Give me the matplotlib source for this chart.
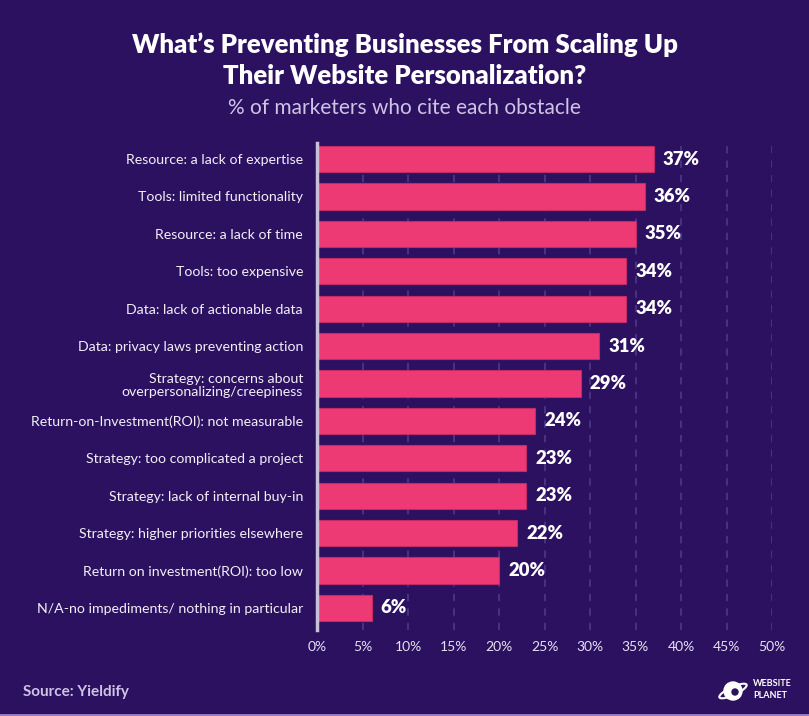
import matplotlib.pyplot as plt
from matplotlib.patches import Circle, Ellipse

# data
obstacles = [
    "Resource: a lack of expertise",
    "Tools: limited functionality",
    "Resource: a lack of time",
    "Tools: too expensive",
    "Data: lack of actionable data",
    "Data: privacy laws preventing action",
    "Strategy: concerns about\noverpersonalizing/creepiness",
    "Return-on-Investment(ROI): not measurable",
    "Strategy: too complicated a project",
    "Strategy: lack of internal buy-in",
    "Strategy: higher priorities elsewhere",
    "Return on investment(ROI): too low",
    "N/A-no impediments/ nothing in particular",
]
percent = [37, 36, 35, 34, 34, 31, 29, 24, 23, 23, 22, 20, 6]
xticks = [0, 5, 10, 15, 20, 25, 30, 35, 40, 45, 50]

BG = "#2c1160"
PINK = "#ee3a74"
LAV = "#cfc3e6"

plt.rcParams['font.family'] = ['Lato', 'DejaVu Sans']

fig = plt.figure(figsize=(8.09, 7.16), dpi=100, facecolor=BG)
ax = fig.add_axes([317 / 809, 1 - 630 / 716, (772 - 317) / 809, 487 / 716])
ax.set_facecolor(BG)

ypos = list(range(len(percent)))
ax.barh(ypos, percent, height=0.7, color=PINK, edgecolor="#c22a66", linewidth=0.8, zorder=3)
for y, v in zip(ypos, percent):
    ax.text(v + 1.0, y, f"{v}%", va="center", ha="left", color="white",
            fontsize=13.3, fontweight="heavy")

ax.set_xlim(0, 50)
ax.set_ylim(12.59, -0.43)
ax.set_xticks(xticks)
ax.set_xticklabels([f"{t}%" for t in xticks], color="#e6e0f2", fontsize=10)
ax.set_yticks(ypos)
ax.set_yticklabels(obstacles, color="#f2eef8", fontsize=10.2, linespacing=1.15)
ax.tick_params(axis="both", length=0)
ax.tick_params(axis="y", pad=10)
ax.tick_params(axis="x", pad=8)
for t in xticks[1:]:
    ax.axvline(t, color="#4d3585", linestyle=(0, (4, 4)), linewidth=1.3, zorder=1)
for s in ["top", "right", "bottom"]:
    ax.spines[s].set_visible(False)
ax.spines["left"].set_color("#c8c0d8")
ax.spines["left"].set_linewidth(2.5)
ax.spines["left"].set_zorder(4)

# titles
fig.text(0.5, 1 - 60 / 716, "What\u2019s Preventing Businesses From Scaling Up\nTheir Website Personalization?",
         ha="center", va="center", color="white", fontsize=18.5, fontweight="heavy", linespacing=1.35)
fig.text(0.5, 1 - 108 / 716, "% of marketers who cite each obstacle",
         ha="center", va="center", color=LAV, fontsize=15)

fig.text(23 / 809, 1 - 692 / 716, "Source: Yieldify", ha="left", va="center",
         color=LAV, fontsize=11, fontweight="bold")

# logo
lax = fig.add_axes([718 / 809, 1 - 704 / 716, 30 / 809, 26 / 716])
lax.set_xlim(0, 30)
lax.set_ylim(0, 26)
lax.axis("off")
lax.add_patch(Circle((15, 13), 9, color="white"))
lax.add_patch(Ellipse((15, 13), 30, 8, angle=25, fill=False, edgecolor="white", linewidth=1.5))
lax.add_patch(Circle((17, 12), 3, color=BG))
fig.text(753 / 809, 1 - 684 / 716, "WEBSITE", color="white", fontsize=6.5,
         fontweight="bold", ha="left", va="center")
fig.text(753 / 809, 1 - 696 / 716, "PLANET", color="white", fontsize=6.5,
         fontweight="bold", ha="left", va="center")

fig.add_artist(plt.Line2D([0, 1], [1.5 / 716, 1.5 / 716], color="#9b82c8", linewidth=2))

fig.savefig("out.png", dpi=100, facecolor=BG)
